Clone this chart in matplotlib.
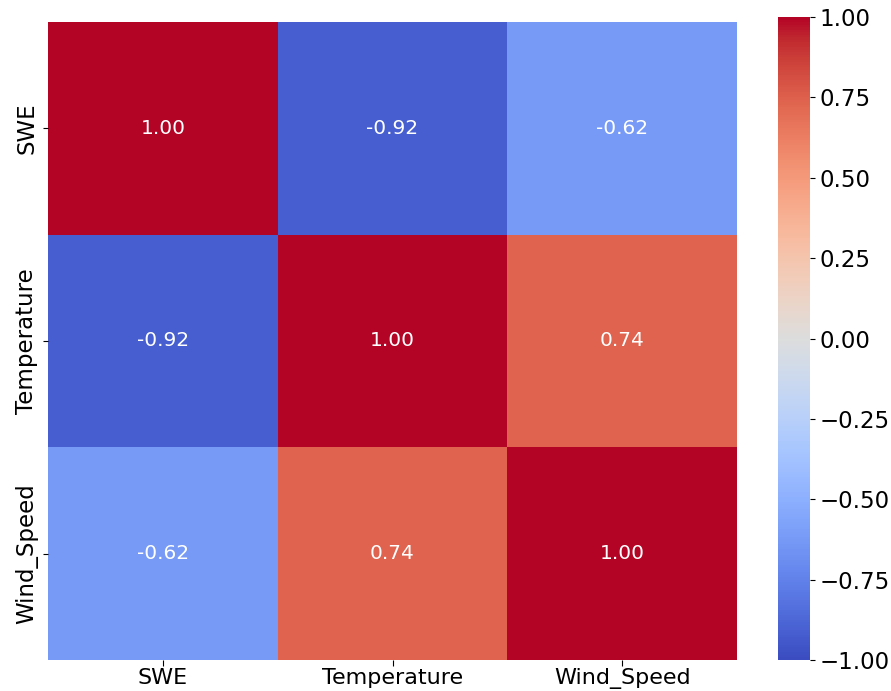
import numpy as np
import matplotlib
matplotlib.use("Agg")
import matplotlib.pyplot as plt
import seaborn as sns

labels = ["SWE", "Temperature", "Wind_Speed"]
corr_swe = [1.00, -0.92, -0.62]
corr_temp = [-0.92, 1.00, 0.74]
corr_wind = [-0.62, 0.74, 1.00]

matrix = np.array([corr_swe, corr_temp, corr_wind])

fig = plt.figure(figsize=(8.91, 6.91), dpi=100)
ax = fig.add_axes([48/891, 1-660/691, (737-48)/891, (660-22)/691])
cax = fig.add_axes([778/891, 1-660/691, (810-778)/891, (660-17)/691])

sns.heatmap(matrix, annot=True, fmt=".2f", cmap="coolwarm", vmin=-1, vmax=1,
            xticklabels=labels, yticklabels=labels, ax=ax, cbar_ax=cax,
            annot_kws={"fontsize": 14.5})
ax.tick_params(axis="y", labelsize=16.5)
ax.tick_params(axis="x", labelsize=16, pad=2, length=4)
cax.tick_params(labelsize=16.5)
cax.set_frame_on(False)

fig.savefig("out.png", dpi=100)
